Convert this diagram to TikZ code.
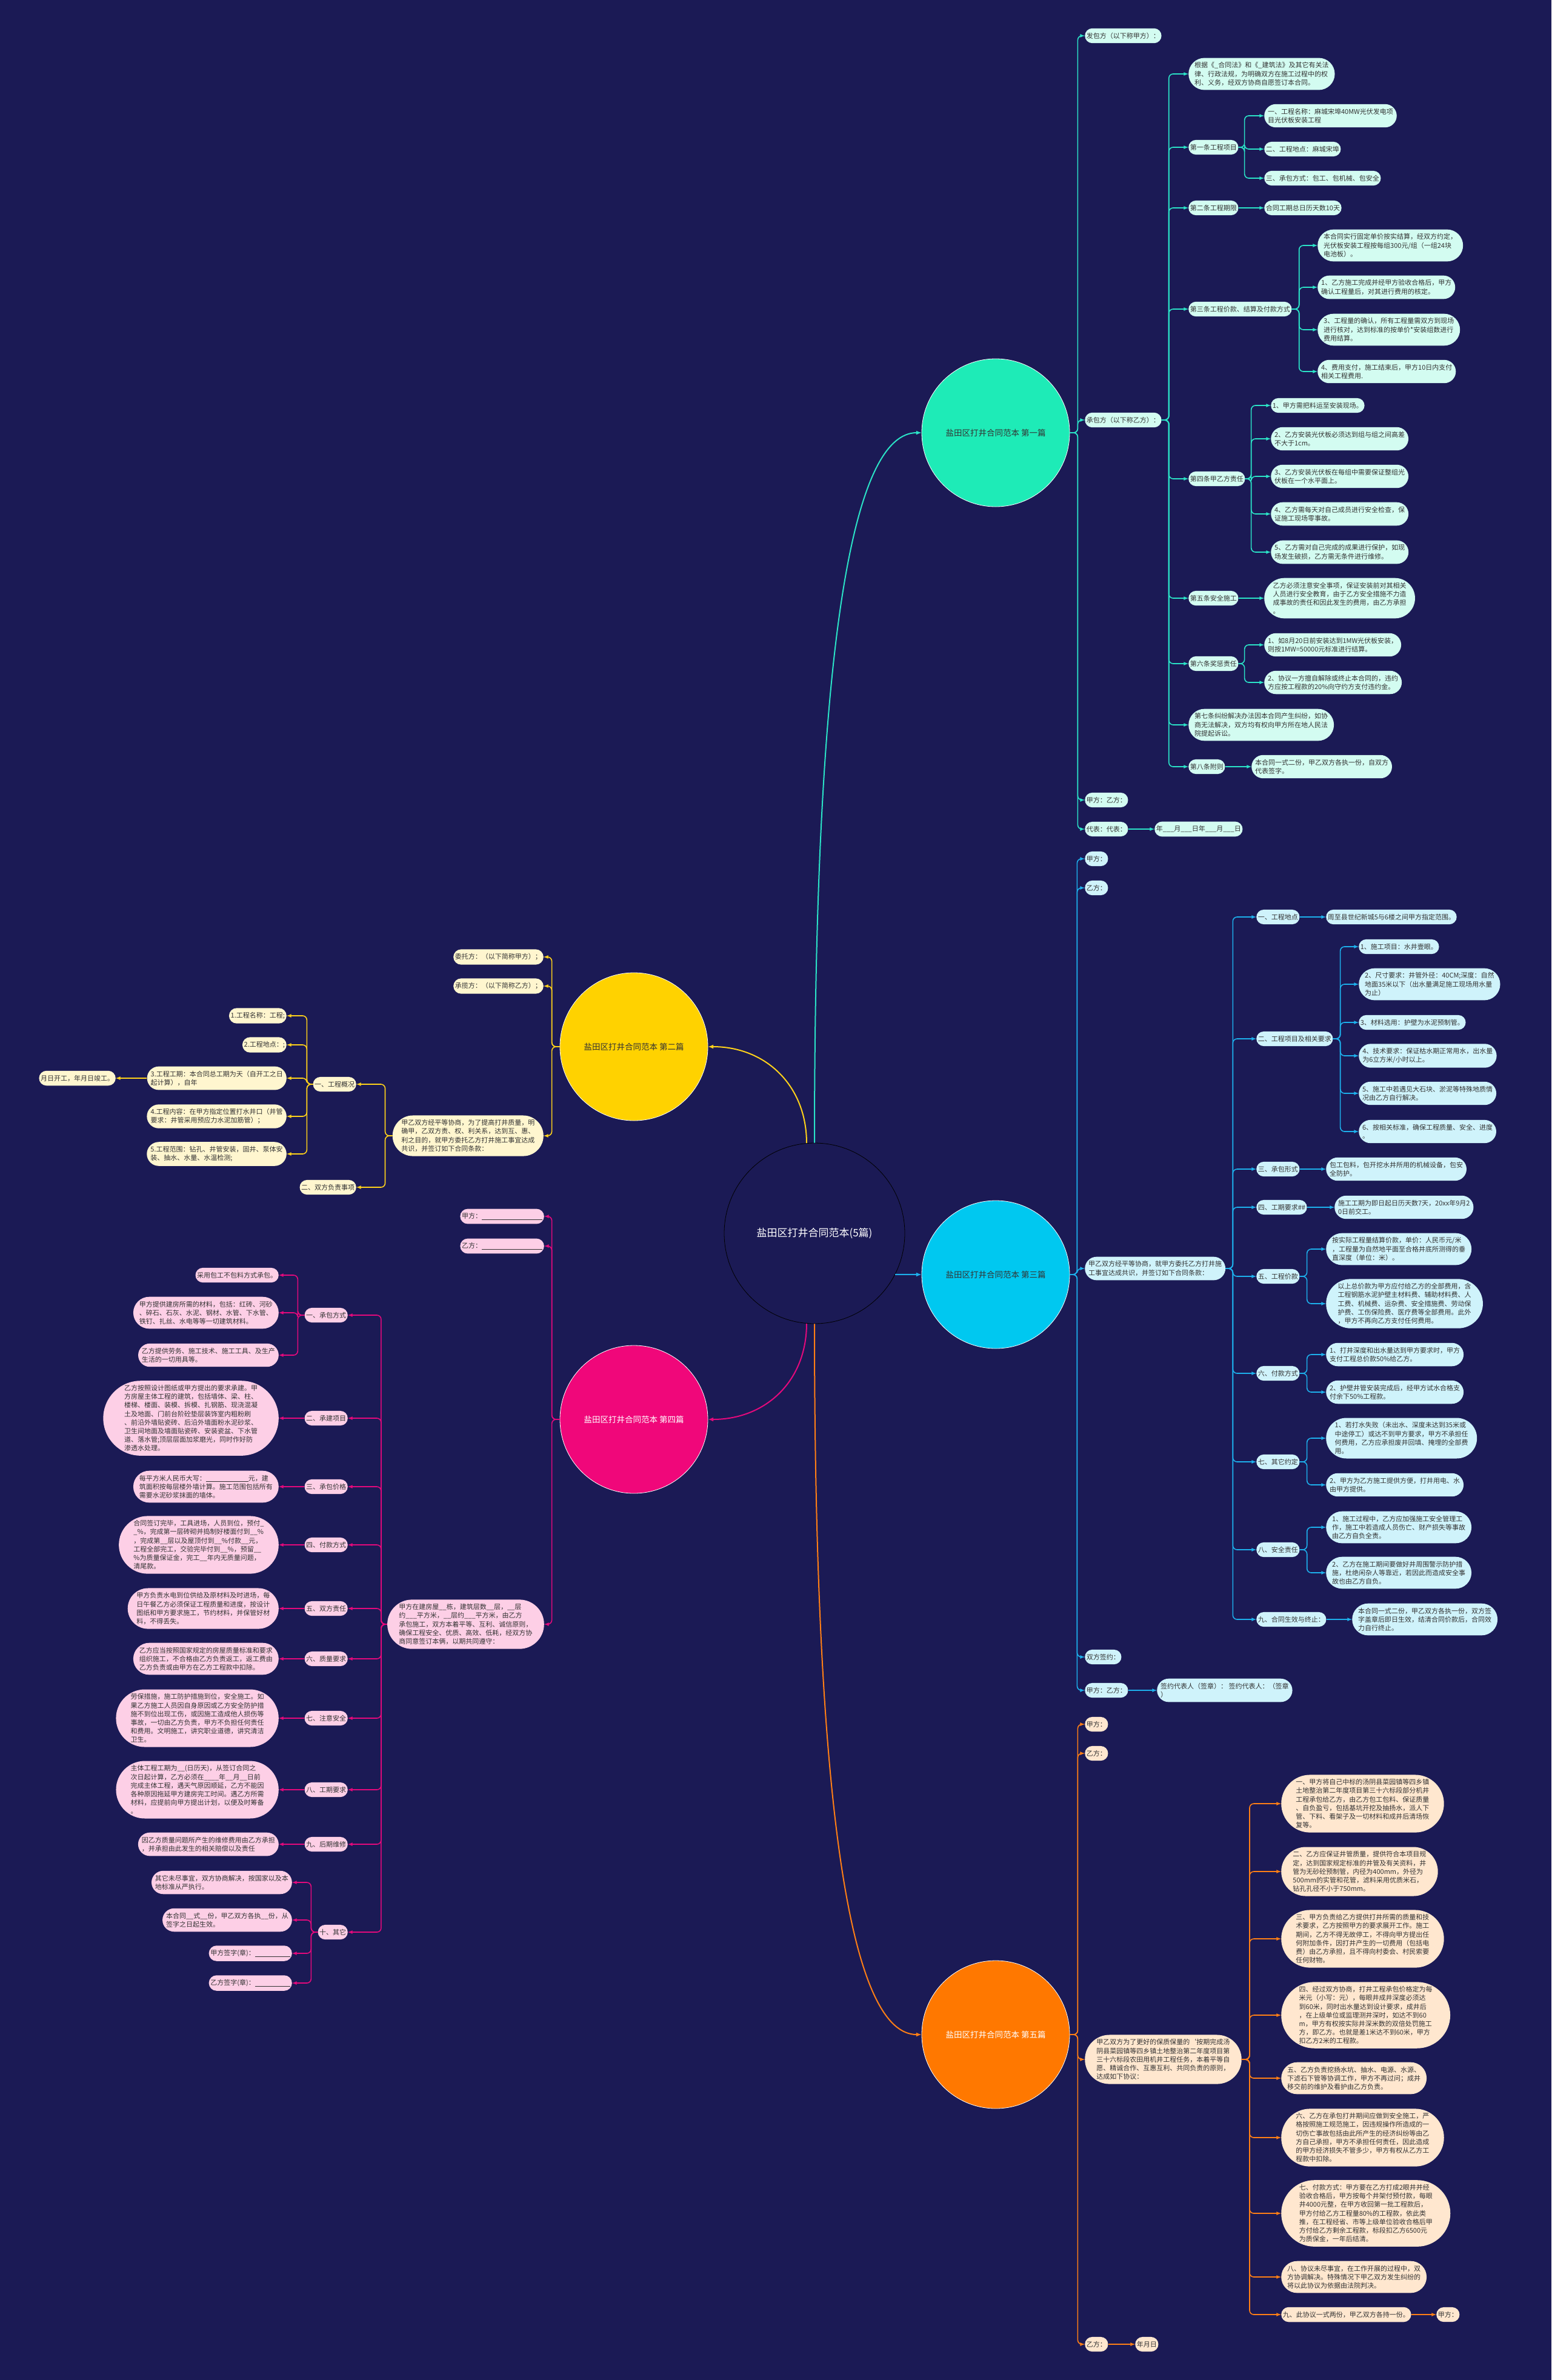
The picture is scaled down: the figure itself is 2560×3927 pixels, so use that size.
\documentclass[tikz,border=0pt]{standalone}
\usepackage{fontspec}
\setmainfont{Noto Sans CJK SC}
\usetikzlibrary{shapes.misc}

\definecolor{fundo}{HTML}{1B1A55}
\definecolor{texto}{HTML}{333333}
% ramo 1 (verde-agua)
\definecolor{linhaA}{HTML}{2BE3C7}
\definecolor{bolaA}{HTML}{1EEBB7}
\definecolor{caixaA}{HTML}{D3FCF1}
% ramo 2 (amarelo)
\definecolor{linhaB}{HTML}{FFD21A}
\definecolor{bolaB}{HTML}{FFD200}
\definecolor{caixaB}{HTML}{FFF6CF}
% ramo 3 (azul)
\definecolor{linhaC}{HTML}{1DB0EC}
\definecolor{bolaC}{HTML}{00C8F0}
\definecolor{caixaC}{HTML}{CFF3FB}
% ramo 4 (rosa)
\definecolor{linhaD}{HTML}{E4097C}
\definecolor{bolaD}{HTML}{F0077A}
\definecolor{caixaD}{HTML}{FDCFE6}
% ramo 5 (laranja)
\definecolor{linhaE}{HTML}{FF7F15}
\definecolor{bolaE}{HTML}{FF7800}
\definecolor{caixaE}{HTML}{FFE7CF}

\newcommand{\fs}{\fontsize{11}{14.2}\selectfont}
\newcommand{\traco}[1]{\rule[-1.5pt]{#1}{0.5pt}}

\tikzset{
  caixa/.style={rounded rectangle, inner xsep=1.5pt, inner ysep=7pt, align=left, text=texto, font=\fs},
  bola/.style={circle, draw=white, line width=0.8pt, minimum size=244pt, inner sep=0pt, align=center, font=\fontsize{13.5}{16}\selectfont},
  liga/.style={line width=1.6pt, rounded corners=7pt, -latex},
  cA/.style={caixa, fill=caixaA}, lA/.style={liga, draw=linhaA},
  cB/.style={caixa, fill=caixaB}, lB/.style={liga, draw=linhaB},
  cC/.style={caixa, fill=caixaC}, lC/.style={liga, draw=linhaC},
  cD/.style={caixa, fill=caixaD}, lD/.style={liga, draw=linhaD},
  cE/.style={caixa, fill=caixaE}, lE/.style={liga, draw=linhaE},
}

\begin{document}
\begin{tikzpicture}[x=1pt,y=-1pt]
  \fill[fundo] (0,0) rectangle (2560,3927); % fundo

  % raiz e os cinco ramos
  \node[circle, draw=black, line width=0.8pt, fill=fundo, minimum size=298pt, text=white, font=\fontsize{17}{20}\selectfont] (raiz) at (1344,2035) {盐田区打井合同范本(5篇)};
  \node[bola, fill=bolaA, text=texto] (r1) at (1643,714) {盐田区打井合同范本 第一篇};
  \node[bola, fill=bolaB, text=texto] (r2) at (1046,1727) {盐田区打井合同范本 第二篇};
  \node[bola, fill=bolaC, text=texto] (r3) at (1643,2103) {盐田区打井合同范本 第三篇};
  \node[bola, fill=bolaD, text=white] (r4) at (1046,2342) {盐田区打井合同范本 第四篇};
  \node[bola, fill=bolaE, text=white] (r5) at (1643,3357) {盐田区打井合同范本 第五篇};

  \draw[lA, line width=2pt] (raiz.north) .. controls +(0,-850) and +(-110,0) .. (r1.west);
  \draw[lB, line width=2pt] (raiz.95) .. controls +(0,-95) and +(95,0) .. (r2.east);
  \draw[lC, line width=2pt] (raiz.-27) -- (r3.west);
  \draw[lD, line width=2pt] (raiz.265) .. controls +(0,95) and +(95,0) .. (r4.east);
  \draw[lE, line width=2pt] (raiz.south) .. controls +(0,850) and +(-110,0) .. (r5.west);

  % ---------------- ramo 1 ----------------
  \node[cA, anchor=west] (a1) at (1790,59) {发包方（以下称甲方）：};
  \node[cA, anchor=west] (a2) at (1790,693) {承包方（以下称乙方）：};
  \node[cA, anchor=west] (a3) at (1790,1320) {甲方：乙方：};
  \node[cA, anchor=west] (a4) at (1790,1368) {代表：代表：};
  \node[cA, anchor=west] (a4x) at (1905,1368) {年\_\_\_月\_\_\_日年\_\_\_月\_\_\_日};

  \node[cA, anchor=west] (a2a) at (1961,122) {根据《\_合同法》和《\_建筑法》及其它有关法\\律、行政法规，为明确双方在施工过程中的权\\利、义务，经双方协商自愿签订本合同。};
  \node[cA, anchor=west] (a2b) at (1961,243) {第一条工程项目};
  \node[cA, anchor=west] (a2c) at (1961,343) {第二条工程期限};
  \node[cA, anchor=west] (a2d) at (1961,510) {第三条工程价款、结算及付款方式};
  \node[cA, anchor=west] (a2e) at (1961,790) {第四条甲乙方责任};
  \node[cA, anchor=west] (a2f) at (1961,987) {第五条安全施工};
  \node[cA, anchor=west] (a2g) at (1961,1095) {第六条奖惩责任};
  \node[cA, anchor=west] (a2h) at (1961,1196) {第七条纠纷解决办法因本合同产生纠纷，如协\\商无法解决，双方均有权向甲方所在地人民法\\院提起诉讼。};
  \node[cA, anchor=west] (a2i) at (1961,1265) {第八条附则};

  \node[cA, anchor=west] (a2b1) at (2086,191) {一、工程名称：麻城宋埠40MW光伏发电项\\目光伏板安装工程};
  \node[cA, anchor=west] (a2b2) at (2086,246) {二、工程地点：麻城宋埠};
  \node[cA, anchor=west] (a2b3) at (2086,294) {三、承包方式：包工、包机械、包安全};
  \node[cA, anchor=west] (a2c1) at (2086,343) {合同工期总日历天数10天};
  \node[cA, anchor=west] (a2d1) at (2174,405) {本合同实行固定单价按实结算，经双方约定，\\光伏板安装工程按每组300元/组（一组24块\\电池板）。};
  \node[cA, anchor=west] (a2d2) at (2174,474) {1、乙方施工完成并经甲方验收合格后，甲方\\确认工程量后，对其进行费用的核定。};
  \node[cA, anchor=west] (a2d3) at (2174,544) {3、工程量的确认，所有工程量需双方到现场\\进行核对，达到标准的按单价*安装组数进行\\费用结算。};
  \node[cA, anchor=west] (a2d4) at (2174,613) {4、费用支付，施工结束后，甲方10日内支付\\相关工程费用.};
  \node[cA, anchor=west] (a2e1) at (2097,669) {1、甲方需把料运至安装现场。};
  \node[cA, anchor=west] (a2e2) at (2097,724) {2、乙方安装光伏板必须达到组与组之间高差\\不大于1cm。};
  \node[cA, anchor=west] (a2e3) at (2097,786) {3、乙方安装光伏板在每组中需要保证整组光\\伏板在一个水平面上。};
  \node[cA, anchor=west] (a2e4) at (2097,848) {4、乙方需每天对自己成员进行安全检查，保\\证施工现场零事故。};
  \node[cA, anchor=west] (a2e5) at (2097,911) {5、乙方需对自己完成的成果进行保护，如现\\场发生破损，乙方需无条件进行维修。};
  \node[cA, anchor=west] (a2f1) at (2086,987) {乙方必须注意安全事项，保证安装前对其相关\\人员进行安全教育，由于乙方安全措施不力造\\成事故的责任和因此发生的费用，由乙方承担\\。};
  \node[cA, anchor=west] (a2g1) at (2086,1064) {1、如8月20日前安装达到1MW光伏板安装，\\则按1MW=50000元标准进行结算。};
  \node[cA, anchor=west] (a2g2) at (2086,1126) {2、协议一方擅自解除或终止本合同的，违约\\方应按工程款的20\%向守约方支付违约金。};
  \node[cA, anchor=west] (a2i1) at (2065,1265) {本合同一式二份，甲乙双方各执一份，自双方\\代表签字。};

  \foreach \Filho in {a1,a2,a3,a4}
    \draw[lA] (r1.east) -- ++(13,0) |- (\Filho.west);
  \foreach \Filho in {a2a,a2b,a2c,a2d,a2e,a2f,a2g,a2h,a2i}
    \draw[lA] (a2.east) -- ++(12,0) |- (\Filho.west);
  \foreach \Filho in {a2b1,a2b2,a2b3}
    \draw[lA] (a2b.east) -- ++(10,0) |- (\Filho.west);
  \foreach \Filho in {a2d1,a2d2,a2d3,a2d4}
    \draw[lA] (a2d.east) -- ++(12,0) |- (\Filho.west);
  \foreach \Filho in {a2e1,a2e2,a2e3,a2e4,a2e5}
    \draw[lA] (a2e.east) -- ++(10,0) |- (\Filho.west);
  \foreach \Filho in {a2g1,a2g2}
    \draw[lA] (a2g.east) -- ++(10,0) |- (\Filho.west);
  \draw[lA] (a2c.east) -- (a2c1.west);
  \draw[lA] (a2f.east) -- (a2f1.west);
  \draw[lA] (a2i.east) -- (a2i1.west);
  \draw[lA] (a4.east) -- (a4x.west);

  % ---------------- ramo 2 ----------------
  \node[cB, anchor=east] (b1) at (897,1579) {委托方：（以下简称甲方）；};
  \node[cB, anchor=east] (b2) at (897,1627) {承揽方：（以下简称乙方）；};
  \node[cB, anchor=east] (b3) at (897,1874) {甲乙双方经平等协商，为了提高打井质量，明\\确甲，乙双方责、权、利关系，达到互、惠、\\利之目的，就甲方委托乙方打井施工事宜达成\\共识，并签订如下合同条款：};
  \node[cB, anchor=east] (b3a) at (588,1789) {一、工程概况};
  \node[cB, anchor=east] (b3b) at (588,1959) {二、双方负责事项};
  \node[cB, anchor=east] (b3a1) at (473,1676) {1.工程名称：工程;};
  \node[cB, anchor=east] (b3a2) at (473,1724) {2.工程地点：;};
  \node[cB, anchor=east] (b3a3) at (473,1779) {3.工程工期：本合同总工期为天（自开工之日\\起计算），自年};
  \node[cB, anchor=east] (b3a4) at (473,1842) {4.工程内容：在甲方指定位置打水井口（井管\\要求：井管采用预应力水泥加筋管）；};
  \node[cB, anchor=east] (b3a5) at (473,1904) {5.工程范围：钻孔、井管安装，固井、泵体安\\装、抽水、水量、水温检测;};
  \node[cB, anchor=east] (b3a3x) at (191,1779) {月日开工，年月日竣工。};

  \foreach \Filho in {b1,b2,b3}
    \draw[lB] (r2.west) -- ++(-13,0) |- (\Filho.east);
  \foreach \Filho in {b3a,b3b}
    \draw[lB] (b3.west) -- ++(-12,0) |- (\Filho.east);
  \foreach \Filho in {b3a1,b3a2,b3a3,b3a4,b3a5}
    \draw[lB] (b3a.west) -- ++(-10,0) |- (\Filho.east);
  \draw[lB] (b3a3.west) -- (b3a3x.east);

  % ---------------- ramo 3 ----------------
  \node[cC, anchor=west] (c1) at (1790,1417) {甲方：};
  \node[cC, anchor=west] (c2) at (1790,1465) {乙方：};
  \node[cC, anchor=west] (c3) at (1790,2093) {甲乙双方经平等协商，就甲方委托乙方打井施\\工事宜达成共识，并签订如下合同条款：};
  \node[cC, anchor=west] (c4) at (1790,2734) {双方签约：};
  \node[cC, anchor=west] (c5) at (1790,2789) {甲方：乙方：};
  \node[cC, anchor=west] (c5x) at (1909,2789) {签约代表人（签章）： 签约代表人：（签章\\）};

  \node[cC, anchor=west] (c3a) at (2073,1513) {一、工程地点};
  \node[cC, anchor=west] (c3b) at (2073,1714) {二、工程项目及相关要求};
  \node[cC, anchor=west] (c3c) at (2073,1929) {三、承包形式};
  \node[cC, anchor=west] (c3d) at (2073,1992) {四、工期要求\#\#};
  \node[cC, anchor=west] (c3e) at (2073,2106) {五、工程价款};
  \node[cC, anchor=west] (c3f) at (2073,2266) {六、付款方式};
  \node[cC, anchor=west] (c3g) at (2073,2412) {七、其它约定};
  \node[cC, anchor=west] (c3h) at (2073,2557) {八、安全责任};
  \node[cC, anchor=west] (c3i) at (2073,2672) {九、合同生效与终止：};

  \node[cC, anchor=west] (c3a1) at (2188,1513) {周至县世纪新城5与6楼之间甲方指定范围。};
  \node[cC, anchor=west] (c3b1) at (2242,1562) {1、施工项目：水井壹眼。};
  \node[cC, anchor=west] (c3b2) at (2242,1624) {2、尺寸要求：井管外径：40CM;深度：自然\\地面35米以下（出水量满足施工现场用水量\\为止）};
  \node[cC, anchor=west] (c3b3) at (2242,1687) {3、材料选用：护壁为水泥预制管。};
  \node[cC, anchor=west] (c3b4) at (2242,1742) {4、技术要求：保证枯水期正常用水，出水量\\为6立方米/小时以上。};
  \node[cC, anchor=west] (c3b5) at (2242,1804) {5、施工中若遇见大石块、淤泥等特殊地质情\\况由乙方自行解决。};
  \node[cC, anchor=west] (c3b6) at (2242,1867) {6、按相关标准，确保工程质量、安全、进度\\。};
  \node[cC, anchor=west] (c3c1) at (2188,1929) {包工包料，包开挖水井所用的机械设备，包安\\全防护。};
  \node[cC, anchor=west] (c3d1) at (2202,1992) {施工工期为即日起日历天数7天，20xx年9月2\\0日前交工。};
  \node[cC, anchor=west] (c3e1) at (2188,2061) {按实际工程量结算价款，单价：人民币元/米\\，工程量为自然地平面至合格井底所测得的垂\\直深度（单位：米）。};
  \node[cC, anchor=west] (c3e2) at (2188,2151) {以上总价款为甲方应付给乙方的全部费用，含\\工程钢筋水泥护壁主材料费、辅助材料费、人\\工费、机械费、运杂费、安全措施费、劳动保\\护费、工伤保险费、医疗费等全部费用。此外\\，甲方不再向乙方支付任何费用。};
  \node[cC, anchor=west] (c3f1) at (2188,2235) {1、打井深度和出水量达到甲方要求时，甲方\\支付工程总价款50\%给乙方。};
  \node[cC, anchor=west] (c3f2) at (2188,2297) {2、护壁井管安装完成后，经甲方试水合格支\\付余下50\%工程款。};
  \node[cC, anchor=west] (c3g1) at (2188,2373) {1、若打水失败（未出水、深度未达到35米或\\中途停工）或达不到甲方要求，甲方不承担任\\何费用，乙方应承担废井回填、掩埋的全部费\\用。};
  \node[cC, anchor=west] (c3g2) at (2188,2450) {2、甲方为乙方施工提供方便，打井用电、水\\由甲方提供。};
  \node[cC, anchor=west] (c3h1) at (2188,2520) {1、施工过程中，乙方应加强施工安全管理工\\作，施工中若造成人员伤亡、财产损失等事故\\由乙方自负全责。};
  \node[cC, anchor=west] (c3h2) at (2188,2595) {2、乙方在施工期间要做好井周围警示防护措\\施，杜绝闲杂人等靠近，若因此而造成安全事\\故也由乙方自负。};
  \node[cC, anchor=west] (c3i1) at (2231,2672) {本合同一式二份，甲乙双方各执一份，双方签\\字盖章后即日生效，结清合同价款后，合同效\\力自行终止。};

  \foreach \Filho in {c1,c2,c3,c4,c5}
    \draw[lC] (r3.east) -- ++(12,0) |- (\Filho.west);
  \foreach \Filho in {c3a,c3b,c3c,c3d,c3e,c3f,c3g,c3h,c3i}
    \draw[lC] (c3.east) -- ++(12,0) |- (\Filho.west);
  \foreach \Filho in {c3b1,c3b2,c3b3,c3b4,c3b5,c3b6}
    \draw[lC] (c3b.east) -- ++(12,0) |- (\Filho.west);
  \foreach \Filho in {c3e1,c3e2}
    \draw[lC] (c3e.east) -- ++(12,0) |- (\Filho.west);
  \foreach \Filho in {c3f1,c3f2}
    \draw[lC] (c3f.east) -- ++(12,0) |- (\Filho.west);
  \foreach \Filho in {c3g1,c3g2}
    \draw[lC] (c3g.east) -- ++(12,0) |- (\Filho.west);
  \foreach \Filho in {c3h1,c3h2}
    \draw[lC] (c3h.east) -- ++(12,0) |- (\Filho.west);
  \draw[lC] (c3a.east) -- (c3a1.west);
  \draw[lC] (c3c.east) -- (c3c1.west);
  \draw[lC] (c3d.east) -- (c3d1.west);
  \draw[lC] (c3i.east) -- (c3i1.west);
  \draw[lC] (c5.east) -- (c5x.west);

  % ---------------- ramo 4 ----------------
  \node[cD, anchor=east] (d1) at (898,2007) {甲方：\traco{100pt}};
  \node[cD, anchor=east] (d2) at (898,2056) {乙方：\traco{100pt}};
  \node[cD, anchor=east] (d3) at (898,2680) {甲方在建房屋\_\_栋，建筑层数\_\_层，\_\_层\\约\_\_\_平方米，\_\_层约\_\_\_平方米，由乙方\\承包施工，双方本着平等、互利、诚信原则，\\确保工程安全、优质、高效、低耗，经双方协\\商同意签订本俩，以期共同遵守：};

  \node[cD, anchor=east] (d3a) at (574,2170) {一、承包方式};
  \node[cD, anchor=east] (d3b) at (574,2340) {二、承建项目};
  \node[cD, anchor=east] (d3c) at (574,2453) {三、承包价格};
  \node[cD, anchor=east] (d3d) at (574,2549) {四、付款方式};
  \node[cD, anchor=east] (d3e) at (574,2654) {五、双方责任};
  \node[cD, anchor=east] (d3f) at (574,2737) {六、质量要求};
  \node[cD, anchor=east] (d3g) at (574,2835) {七、注意安全};
  \node[cD, anchor=east] (d3h) at (574,2953) {八、工期要求};
  \node[cD, anchor=east] (d3i) at (574,3043) {九、后期维修};
  \node[cD, anchor=east] (d3j) at (574,3188) {十、其它};

  \node[cD, anchor=east] (d3a1) at (460,2104) {采用包工不包料方式承包。};
  \node[cD, anchor=east] (d3a2) at (460,2166) {甲方提供建房所需的材料，包括：红砖、河砂\\、碎石、石灰、水泥、钢材、水管、下水管、\\铁钉、扎丝、水电等等一切建筑材料。};
  \node[cD, anchor=east] (d3a3) at (460,2236) {乙方提供劳务、施工技术、施工工具、及生产\\生活的一切用具等。};
  \node[cD, anchor=east] (d3b1) at (460,2340) {乙方按照设计图纸或甲方提出的要求承建。甲\\方房屋主体工程的建筑，包括墙体、梁、柱、\\楼梯、楼面、装模、拆模、扎钢筋、现浇混凝\\土及地面、门前台阶砼垫层装饰室内粗粉刷\\、前沿外墙贴瓷砖、后沿外墙面粉水泥砂浆、\\卫生间地面及墙面贴瓷砖、安装瓷盆、下水管\\道、落水管;顶层层面加浆磨光，同时作好防\\渗透水处理。};
  \node[cD, anchor=east] (d3c1) at (460,2453) {每平方米人民币大写：\traco{70pt}元，建\\筑面积按每层楼外墙计算。施工范围包括所有\\需要水泥砂浆抹面的墙体。};
  \node[cD, anchor=east] (d3d1) at (460,2549) {合同签订完毕，工具进场，人员到位，预付\_\\\_\%，完成第一层砖砌并捣制好楼面付到\_\_\%\\，完成第\_\_层以及屋顶付到\_\_\%付款\_\_元，\\工程全部完工，交验完毕付到\_\_\%，预留\_\_\\\%为质量保证金，完工\_\_年内无质量问题，\\清尾款。};
  \node[cD, anchor=east] (d3e1) at (460,2654) {甲方负责水电到位供给及原材料及时进场，每\\日午餐乙方必须保证工程质量和进度，按设计\\图纸和甲方要求施工，节约材料，并保管好材\\料，不得丢失。};
  \node[cD, anchor=east] (d3f1) at (460,2737) {乙方应当按照国家规定的房屋质量标准和要求\\组织施工，不合格由乙方负责返工，返工费由\\乙方负责或由甲方在乙方工程款中扣除。};
  \node[cD, anchor=east] (d3g1) at (460,2835) {劳保措施，施工防护措施到位，安全施工。如\\果乙方施工人员因自身原因或乙方安全防护措\\施不到位出现工伤，或因施工造成他人损伤等\\事故，一切由乙方负责，甲方不负担任何责任\\和费用。文明施工，讲究职业道德，讲究清洁\\卫生。};
  \node[cD, anchor=east] (d3h1) at (460,2953) {主体工程工期为\_\_(日历天)，从签订合同之\\次日起计算，乙方必须在\_\_\_\_年\_\_月\_\_日前\\完成主体工程，遇天气原因顺延，乙方不能因\\各种原因拖延甲方建房完工时间。遇乙方所需\\材料，应提前向甲方提出计划，以便及时筹备\\。};
  \node[cD, anchor=east] (d3i1) at (460,3043) {因乙方质量问题所产生的维修费用由乙方承担\\，并承担由此发生的相关赔偿以及责任};
  \node[cD, anchor=east] (d3j1) at (482,3106) {其它未尽事宜，双方协商解决，按国家以及本\\地标准从严执行。};
  \node[cD, anchor=east] (d3j2) at (482,3168) {本合同\_\_式\_\_份，甲乙双方各执\_\_份，从\\签字之日起生效。};
  \node[cD, anchor=east] (d3j3) at (482,3223) {甲方签字(章)：\traco{58pt}};
  \node[cD, anchor=east] (d3j4) at (482,3272) {乙方签字(章)：\traco{58pt}};

  \foreach \Filho in {d1,d2,d3}
    \draw[lD] (r4.west) -- ++(-13,0) |- (\Filho.east);
  \foreach \Filho in {d3a,d3b,d3c,d3d,d3e,d3f,d3g,d3h,d3i,d3j}
    \draw[lD] (d3.west) -- ++(-10,0) |- (\Filho.east);
  \foreach \Filho in {d3a1,d3a2,d3a3}
    \draw[lD] (d3a.west) -- ++(-11,0) |- (\Filho.east);
  \foreach \Filho in {d3j1,d3j2,d3j3,d3j4}
    \draw[lD] (d3j.west) -- ++(-11,0) |- (\Filho.east);
  \foreach \Pai/\Filho in {d3b/d3b1,d3c/d3c1,d3d/d3d1,d3e/d3e1,d3f/d3f1,d3g/d3g1,d3h/d3h1,d3i/d3i1}
    \draw[lD] (\Pai.west) -- (\Filho.east);

  % ---------------- ramo 5 ----------------
  \node[cE, anchor=west] (e1) at (1790,2845) {甲方：};
  \node[cE, anchor=west] (e2) at (1790,2893) {乙方：};
  \node[cE, anchor=west] (e3) at (1790,3398) {甲乙双方为了更好的保质保量的\symbol{96}按期完成汤\\阴县菜园镇等四乡镇土地整治第二年度项目第\\三十六标段农田用机井工程任务，本着平等自\\愿、精诚合作、互惠互利、共同负责的原则，\\达成如下协议：};
  \node[cE, anchor=west] (e4) at (1790,3868) {乙方：};
  \node[cE, anchor=west] (e4x) at (1873,3868) {年月日};

  \node[cE, anchor=west] (e3a) at (2114,2976) {一、甲方将自己中标的汤阴县菜园镇等四乡镇\\土地整治第二年度项目第三十六标段部分机井\\工程承包给乙方，由乙方包工包料、保证质量\\、自负盈亏，包括基坑开挖及抽扬水，派人下\\管、下料、看架子及一切材料和成井后清场恢\\复等。};
  \node[cE, anchor=west] (e3b) at (2114,3088) {二、乙方应保证井管质量，提供符合本项目规\\定，达到国家规定标准的井管及有关资料，井\\管为无砂砼预制管，内径为400mm，外径为\\500mm的实管和花管，滤料采用优质米石，\\钻孔孔径不小于750mm。};
  \node[cE, anchor=west] (e3c) at (2114,3199) {三、甲方负责给乙方提供打井所需的质量和技\\术要求，乙方按照甲方的要求展开工作。施工\\期间，乙方不得无故停工，不得向甲方提出任\\何附加条件，因打井产生的一切费用（包括电\\费）由乙方承担，且不得向村委会、村民索要\\任何财物。};
  \node[cE, anchor=west] (e3d) at (2114,3325) {四、经过双方协商，打井工程承包价格定为每\\米元（小写：元），每眼井成井深度必须达\\到60米，同时出水量达到设计要求，成井后\\，在上级单位或监理测井深时，如达不到60\\m，甲方有权按实际井深米数的双倍处罚施工\\方，即乙方。也就是差1米达不到60米，甲方\\扣乙方2米的工程款。};
  \node[cE, anchor=west] (e3e) at (2114,3429) {五、乙方负责挖扬水坑、抽水、电源、水源、\\下滤石下管等协调工作，甲方不再过问；成井\\移交前的维护及看护由乙方负责。};
  \node[cE, anchor=west] (e3f) at (2114,3527) {六、乙方在承包打井期间应做到安全施工，严\\格按照施工规范施工，因违规操作所造成的一\\切伤亡事故包括由此所产生的经济纠纷等由乙\\方自己承担，甲方不承担任何责任，因此造成\\的甲方经济损失不管多少，甲方有权从乙方工\\程款中扣除。};
  \node[cE, anchor=west] (e3g) at (2114,3652) {七、付款方式：甲方要在乙方打成2眼井并经\\验收合格后，甲方按每个井架付预付款，每眼\\井4000元整，在甲方收回第一批工程款后，\\甲方付给乙方工程量80\%的工程款，依此类\\推，在工程经省、市等上级单位验收合格后甲\\方付给乙方剩余工程款，标段扣乙方6500元\\为质保金，一年后结清。};
  \node[cE, anchor=west] (e3h) at (2114,3757) {八、协议未尽事宜，在工作开展的过程中，双\\方协调解决。特殊情况下甲乙双方发生纠纷的\\将以此协议为依据由法院判决。};
  \node[cE, anchor=west] (e3i) at (2114,3819) {九、此协议一式两份，甲乙双方各持一份。};
  \node[cE, anchor=west] (e3i1) at (2370,3819) {甲方：};

  \foreach \Filho in {e1,e2,e3,e4}
    \draw[lE] (r5.east) -- ++(13,0) |- (\Filho.west);
  \foreach \Filho in {e3a,e3b,e3c,e3d,e3e,e3f,e3g,e3h,e3i}
    \draw[lE] (e3.east) -- ++(13,0) |- (\Filho.west);
  \draw[lE] (e3i.east) -- (e3i1.west);
  \draw[lE] (e4.east) -- (e4x.west);
\end{tikzpicture}
\end{document}
